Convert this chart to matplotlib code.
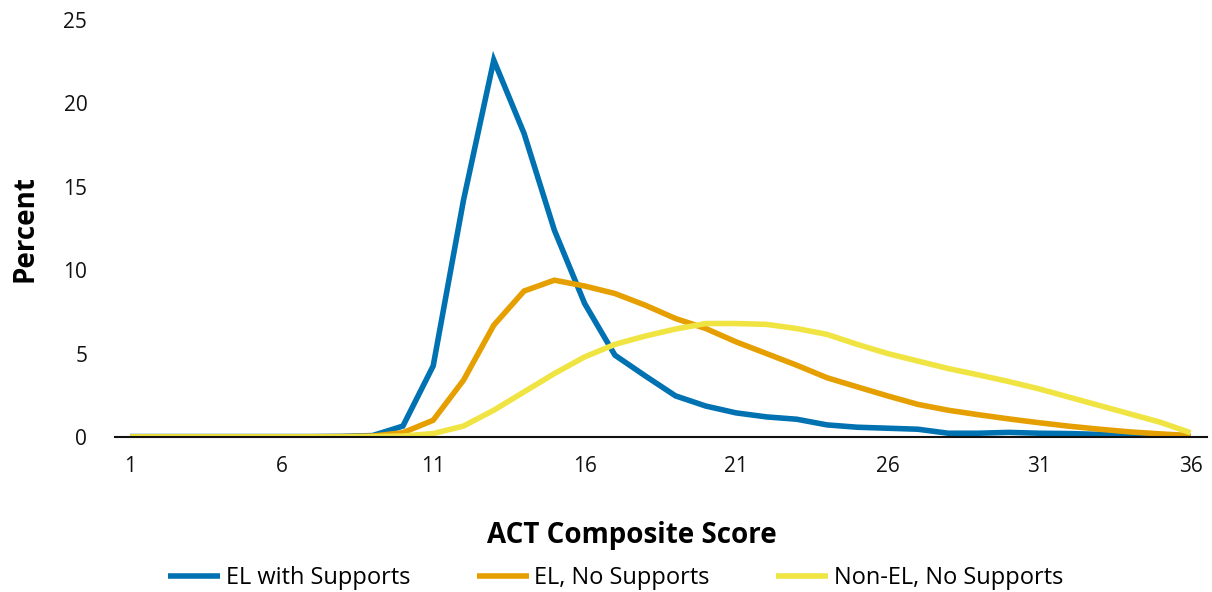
import matplotlib.pyplot as plt

scores = list(range(1, 37))

el_supports = [0.02, 0.02, 0.02, 0.02, 0.02, 0.02, 0.02, 0.03, 0.08, 0.65,
               4.26, 14.2, 22.6, 18.2, 12.4, 8.0, 4.9, 3.66, 2.46, 1.85,
               1.44, 1.2, 1.06, 0.72, 0.58, 0.52, 0.46, 0.22, 0.22, 0.27,
               0.22, 0.2, 0.15, 0.08, 0.04, 0.01]
el_no_supports = [0.0, 0.0, 0.0, 0.0, 0.0, 0.0, 0.01, 0.02, 0.05, 0.25,
                  1.0, 3.4, 6.7, 8.75, 9.4, 9.05, 8.6, 7.9, 7.1, 6.5,
                  5.7, 5.0, 4.3, 3.55, 3.0, 2.46, 1.95, 1.6, 1.33, 1.08,
                  0.85, 0.64, 0.46, 0.3, 0.18, 0.08]
non_el = [0.0, 0.0, 0.0, 0.0, 0.0, 0.0, 0.0, 0.0, 0.02, 0.05,
          0.2, 0.65, 1.6, 2.7, 3.8, 4.8, 5.55, 6.05, 6.47, 6.8,
          6.8, 6.75, 6.5, 6.15, 5.55, 5.0, 4.55, 4.1, 3.72, 3.32,
          2.88, 2.38, 1.88, 1.38, 0.88, 0.25]

labels = ['EL with Supports', 'EL, No Supports', 'Non-EL, No Supports']
colors = ['#0072B2', '#E69F00', '#F0E442']

plt.rcParams['font.family'] = ['Open Sans', 'DejaVu Sans']

fig = plt.figure(figsize=(12.12, 5.92), dpi=100)
ax = fig.add_axes([0.095, 0.262, 0.901, 0.704])

for series, label, color in zip([el_supports, el_no_supports, non_el], labels, colors):
    ax.plot(scores, series, color=color, linewidth=4.0, label=label,
            solid_capstyle='butt', solid_joinstyle='miter')

ax.set_xlim(0.5, 36.55)
ax.set_ylim(0, 25)
ax.set_xticks([1, 6, 11, 16, 21, 26, 31, 36])
ax.set_yticks([0, 5, 10, 15, 20, 25])
ax.tick_params(axis='both', length=0, labelsize=15, colors='#111111')
ax.tick_params(axis='y', pad=20)
ax.tick_params(axis='x', pad=14)

for side in ['top', 'right', 'left']:
    ax.spines[side].set_visible(False)
ax.spines['bottom'].set_color('#111111')
ax.spines['bottom'].set_linewidth(1.5)

ax.set_ylabel('Percent', fontsize=20, fontweight='bold', va='center')
ax.set_xlabel('ACT Composite Score', fontsize=20, fontweight='bold', va='center')
ax.yaxis.set_label_coords(-0.083, 0.5)
ax.xaxis.set_label_coords(0.473, -0.237)

fig.legend(loc='center', bbox_to_anchor=(0.508, 0.024), ncol=3,
           frameon=False, fontsize=17, handlelength=2.2, handletextpad=0.25,
           columnspacing=2.8)

fig.savefig('out.png', dpi=100)
